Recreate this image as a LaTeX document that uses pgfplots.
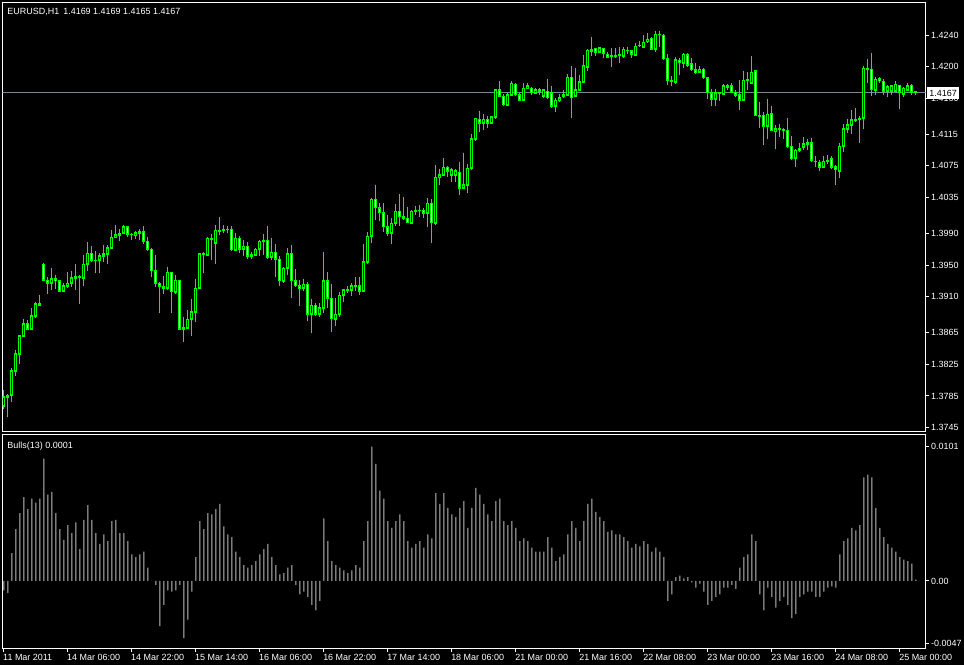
\documentclass[border=0pt]{standalone}
\usepackage{pgfplots}
\pgfplotsset{compat=1.18}
\usepackage{pgfplotstable}
\usepackage{fontspec}
\setmainfont{Liberation Sans}
\definecolor{mtlime}{RGB}{0,255,0}
\definecolor{mtsilver}{RGB}{192,192,192}
\definecolor{mtline}{RGB}{119,136,153}
\pgfplotstableread{
i o h l c
0 1.3772 1.3793 1.3768 1.3784
1 1.3784 1.3788 1.3758 1.3786
2 1.3786 1.3820 1.3777 1.3817
3 1.3817 1.3843 1.3810 1.3838
4 1.3838 1.3862 1.3825 1.3861
5 1.3861 1.3882 1.3860 1.3876
6 1.3876 1.3881 1.3868 1.3869
7 1.3869 1.3896 1.3868 1.3886
8 1.3886 1.3903 1.3883 1.3901
9 1.3901 1.3912 1.3898 1.3899
10 1.3951 1.3953 1.3930 1.3931
11 1.3931 1.3935 1.3914 1.3927
12 1.3927 1.3946 1.3919 1.3933
13 1.3933 1.3938 1.3920 1.3930
14 1.3930 1.3931 1.3916 1.3917
15 1.3917 1.3927 1.3916 1.3924
16 1.3924 1.3941 1.3921 1.3927
17 1.3927 1.3942 1.3922 1.3934
18 1.3934 1.3951 1.3918 1.3935
19 1.3935 1.3938 1.3901 1.3934
20 1.3934 1.3963 1.3924 1.3951
21 1.3951 1.3979 1.3943 1.3965
22 1.3965 1.3974 1.3954 1.3956
23 1.3956 1.3968 1.3940 1.3956
24 1.3956 1.3965 1.3940 1.3962
25 1.3962 1.3975 1.3954 1.3964
26 1.3964 1.3975 1.3951 1.3972
27 1.3972 1.3994 1.3972 1.3985
28 1.3985 1.4000 1.3985 1.3988
29 1.3988 1.3996 1.3980 1.3990
30 1.3990 1.4000 1.3989 1.3998
31 1.3998 1.3999 1.3985 1.3989
32 1.3989 1.3991 1.3982 1.3988
33 1.3988 1.3993 1.3983 1.3991
34 1.3991 1.3996 1.3982 1.3992
35 1.3992 1.3999 1.3977 1.3980
36 1.3980 1.3985 1.3968 1.3970
37 1.3970 1.3972 1.3935 1.3943
38 1.3943 1.3963 1.3922 1.3927
39 1.3927 1.3928 1.3890 1.3923
40 1.3923 1.3936 1.3913 1.3921
41 1.3921 1.3947 1.3919 1.3941
42 1.3941 1.3941 1.3890 1.3916
43 1.3916 1.3938 1.3914 1.3931
44 1.3931 1.3931 1.3868 1.3869
45 1.3869 1.3885 1.3853 1.3871
46 1.3871 1.3893 1.3870 1.3882
47 1.3882 1.3907 1.3861 1.3891
48 1.3891 1.3933 1.3878 1.3921
49 1.3921 1.3965 1.3921 1.3964
50 1.3964 1.3966 1.3940 1.3963
51 1.3963 1.3985 1.3963 1.3984
52 1.3984 1.3989 1.3956 1.3982
53 1.3978 1.4001 1.3951 1.3994
54 1.3993 1.4010 1.3988 1.3994
55 1.3994 1.4001 1.3990 1.3995
56 1.3995 1.3999 1.3991 1.3995
57 1.3995 1.3999 1.3968 1.3969
58 1.3969 1.3990 1.3969 1.3984
59 1.3984 1.3986 1.3965 1.3970
60 1.3970 1.3982 1.3961 1.3974
61 1.3974 1.3979 1.3958 1.3961
62 1.3961 1.3967 1.3958 1.3963
63 1.3963 1.3972 1.3961 1.3970
64 1.3970 1.3982 1.3961 1.3980
65 1.3980 1.3989 1.3963 1.3981
66 1.3981 1.3999 1.3958 1.3960
67 1.3960 1.3984 1.3956 1.3966
68 1.3966 1.3977 1.3935 1.3957
69 1.3957 1.3961 1.3924 1.3930
70 1.3930 1.3947 1.3927 1.3946
71 1.3946 1.3972 1.3937 1.3964
72 1.3964 1.3975 1.3909 1.3930
73 1.3930 1.3945 1.3923 1.3924
74 1.3924 1.3931 1.3898 1.3921
75 1.3921 1.3932 1.3917 1.3926
76 1.3926 1.3928 1.3879 1.3888
77 1.3888 1.3907 1.3864 1.3899
78 1.3899 1.3902 1.3886 1.3888
79 1.3888 1.3902 1.3884 1.3896
80 1.3896 1.3966 1.3889 1.3930
81 1.3930 1.3941 1.3896 1.3908
82 1.3908 1.3926 1.3866 1.3882
83 1.3882 1.3909 1.3873 1.3888
84 1.3888 1.3916 1.3885 1.3912
85 1.3912 1.3919 1.3904 1.3919
86 1.3919 1.3924 1.3915 1.3919
87 1.3919 1.3927 1.3911 1.3924
88 1.3924 1.3935 1.3917 1.3924
89 1.3924 1.3935 1.3912 1.3917
90 1.3917 1.3977 1.3916 1.3954
91 1.3954 1.3992 1.3951 1.3986
92 1.3986 1.4034 1.3978 1.4033
93 1.4033 1.4051 1.4007 1.4022
94 1.4022 1.4028 1.4005 1.4016
95 1.4016 1.4028 1.3992 1.3998
96 1.3998 1.4013 1.3986 1.3990
97 1.3990 1.4009 1.3977 1.4003
98 1.4003 1.4027 1.3999 1.4018
99 1.4018 1.4040 1.3999 1.4011
100 1.4011 1.4036 1.4007 1.4009
101 1.4009 1.4023 1.4003 1.4003
102 1.4003 1.4019 1.4003 1.4018
103 1.4018 1.4024 1.4013 1.4019
104 1.4019 1.4026 1.4010 1.4019
105 1.4019 1.4022 1.4009 1.4015
106 1.4015 1.4035 1.3998 1.4028
107 1.4028 1.4033 1.3978 1.4003
108 1.4003 1.4076 1.4001 1.4061
109 1.4061 1.4071 1.4051 1.4064
110 1.4064 1.4085 1.4064 1.4073
111 1.4073 1.4075 1.4061 1.4068
112 1.4064 1.4072 1.4055 1.4070
113 1.4063 1.4071 1.4055 1.4069
114 1.4067 1.4080 1.4038 1.4047
115 1.4047 1.4091 1.4047 1.4051
116 1.4051 1.4077 1.4041 1.4072
117 1.4072 1.4115 1.4070 1.4109
118 1.4109 1.4136 1.4107 1.4135
119 1.4134 1.4144 1.4118 1.4129
120 1.4129 1.4141 1.4120 1.4134
121 1.4134 1.4138 1.4123 1.4129
122 1.4129 1.4138 1.4128 1.4137
123 1.4137 1.4172 1.4134 1.4171
124 1.4171 1.4182 1.4162 1.4163
125 1.4163 1.4166 1.4151 1.4152
126 1.4152 1.4168 1.4152 1.4165
127 1.4165 1.4182 1.4164 1.4179
128 1.4178 1.4179 1.4164 1.4165
129 1.4165 1.4167 1.4157 1.4158
130 1.4158 1.4179 1.4157 1.4173
131 1.4173 1.4179 1.4172 1.4176
132 1.4173 1.4175 1.4164 1.4167
133 1.4167 1.4173 1.4167 1.4171
134 1.4171 1.4173 1.4164 1.4169
135 1.4163 1.4172 1.4160 1.4171
136 1.4169 1.4184 1.4160 1.4161
137 1.4167 1.4176 1.4148 1.4150
138 1.4150 1.4161 1.4143 1.4158
139 1.4158 1.4166 1.4155 1.4161
140 1.4163 1.4171 1.4160 1.4165
141 1.4165 1.4191 1.4164 1.4187
142 1.4187 1.4201 1.4136 1.4161
143 1.4163 1.4198 1.4162 1.4171
144 1.4171 1.4190 1.4170 1.4181
145 1.4181 1.4215 1.4180 1.4201
146 1.4200 1.4222 1.4194 1.4221
147 1.4220 1.4237 1.4214 1.4222
148 1.4223 1.4224 1.4214 1.4218
149 1.4218 1.4225 1.4218 1.4224
150 1.4223 1.4224 1.4211 1.4217
151 1.4216 1.4219 1.4211 1.4212
152 1.4213 1.4223 1.4200 1.4214
153 1.4214 1.4223 1.4211 1.4214
154 1.4215 1.4225 1.4205 1.4215
155 1.4213 1.4225 1.4211 1.4222
156 1.4221 1.4225 1.4216 1.4220
157 1.4220 1.4221 1.4211 1.4216
158 1.4215 1.4230 1.4215 1.4226
159 1.4227 1.4232 1.4225 1.4227
160 1.4225 1.4240 1.4224 1.4231
161 1.4232 1.4243 1.4230 1.4235
162 1.4236 1.4238 1.4221 1.4222
163 1.4222 1.4245 1.4219 1.4241
164 1.4241 1.4245 1.4225 1.4240
165 1.4240 1.4241 1.4209 1.4210
166 1.4210 1.4216 1.4177 1.4183
167 1.4183 1.4188 1.4176 1.4181
168 1.4181 1.4212 1.4178 1.4209
169 1.4208 1.4211 1.4190 1.4205
170 1.4205 1.4217 1.4198 1.4216
171 1.4215 1.4217 1.4200 1.4202
172 1.4204 1.4211 1.4195 1.4196
173 1.4196 1.4205 1.4191 1.4193
174 1.4193 1.4201 1.4192 1.4197
175 1.4197 1.4199 1.4185 1.4186
176 1.4186 1.4187 1.4159 1.4167
177 1.4167 1.4172 1.4151 1.4159
178 1.4159 1.4172 1.4151 1.4167
179 1.4167 1.4168 1.4157 1.4166
180 1.4166 1.4178 1.4166 1.4176
181 1.4176 1.4178 1.4171 1.4174
182 1.4176 1.4179 1.4167 1.4168
183 1.4168 1.4171 1.4162 1.4164
184 1.4165 1.4183 1.4145 1.4158
185 1.4158 1.4195 1.4157 1.4183
186 1.4183 1.4194 1.4171 1.4184
187 1.4180 1.4213 1.4180 1.4193
188 1.4195 1.4195 1.4138 1.4138
189 1.4138 1.4156 1.4123 1.4139
190 1.4139 1.4143 1.4101 1.4125
191 1.4125 1.4159 1.4109 1.4140
192 1.4141 1.4150 1.4119 1.4119
193 1.4119 1.4127 1.4096 1.4122
194 1.4122 1.4128 1.4111 1.4122
195 1.4121 1.4123 1.4109 1.4120
196 1.4120 1.4136 1.4098 1.4099
197 1.4100 1.4113 1.4082 1.4084
198 1.4085 1.4096 1.4074 1.4095
199 1.4097 1.4104 1.4092 1.4094
200 1.4099 1.4112 1.4095 1.4103
201 1.4103 1.4109 1.4095 1.4104
202 1.4104 1.4110 1.4080 1.4082
203 1.4081 1.4087 1.4074 1.4080
204 1.4079 1.4083 1.4068 1.4073
205 1.4073 1.4087 1.4072 1.4081
206 1.4081 1.4089 1.4078 1.4082
207 1.4084 1.4087 1.4071 1.4073
208 1.4074 1.4076 1.4051 1.4071
209 1.4069 1.4104 1.4060 1.4100
210 1.4100 1.4128 1.4092 1.4122
211 1.4122 1.4134 1.4117 1.4127
212 1.4127 1.4145 1.4115 1.4133
213 1.4133 1.4148 1.4130 1.4134
214 1.4134 1.4138 1.4104 1.4135
215 1.4135 1.4201 1.4122 1.4198
216 1.4198 1.4210 1.4180 1.4197
217 1.4197 1.4217 1.4163 1.4171
218 1.4171 1.4187 1.4164 1.4184
219 1.4185 1.4187 1.4180 1.4182
220 1.4182 1.4185 1.4164 1.4169
221 1.4169 1.4177 1.4162 1.4175
222 1.4169 1.4177 1.4165 1.4176
223 1.4170 1.4182 1.4169 1.4178
224 1.4177 1.4177 1.4147 1.4168
225 1.4166 1.4175 1.4162 1.4173
226 1.4171 1.4179 1.4169 1.4176
227 1.4177 1.4178 1.4164 1.4168
228 1.4169 1.4169 1.4165 1.4167
}\candles
\pgfplotstableread{
i v
0 -0.0007
1 -0.0009
2 0.0021
3 0.0039
4 0.0051
5 0.0063
6 0.0054
7 0.0062
8 0.0059
9 0.0062
10 0.0092
11 0.0065
12 0.0067
13 0.0051
14 0.0039
15 0.0031
16 0.0042
17 0.0036
18 0.0044
19 0.0024
20 0.0046
21 0.0057
22 0.0046
23 0.0036
24 0.0028
25 0.0035
26 0.0030
27 0.0045
28 0.0046
29 0.0036
30 0.0036
31 0.0030
32 0.0020
33 0.0018
34 0.0020
35 0.0022
36 0.0010
37 0.0000
38 -0.0003
39 -0.0034
40 -0.0018
41 -0.0007
42 -0.0008
43 -0.0007
44 -0.0003
45 -0.0043
46 -0.0029
47 -0.0008
48 0.0018
49 0.0045
50 0.0039
51 0.0051
52 0.0050
53 0.0054
54 0.0058
55 0.0041
56 0.0035
57 0.0033
58 0.0022
59 0.0018
60 0.0012
61 0.0010
62 0.0012
63 0.0015
64 0.0020
65 0.0024
66 0.0028
67 0.0018
68 0.0012
69 0.0005
70 0.0006
71 0.0010
72 0.0012
73 -0.0003
74 -0.0010
75 -0.0008
76 -0.0012
77 -0.0018
78 -0.0022
79 -0.0015
80 0.0047
81 0.0030
82 0.0015
83 0.0012
84 0.0010
85 0.0008
86 0.0006
87 0.0008
88 0.0012
89 0.0010
90 0.0030
91 0.0045
92 0.0101
93 0.0088
94 0.0068
95 0.0062
96 0.0045
97 0.0040
98 0.0045
99 0.0050
100 0.0045
101 0.0030
102 0.0025
103 0.0028
104 0.0030
105 0.0025
106 0.0035
107 0.0032
108 0.0066
109 0.0058
110 0.0066
111 0.0055
112 0.0050
113 0.0048
114 0.0055
115 0.0060
116 0.0040
117 0.0055
118 0.0070
119 0.0065
120 0.0058
121 0.0050
122 0.0045
123 0.0060
124 0.0062
125 0.0045
126 0.0042
127 0.0045
128 0.0040
129 0.0030
130 0.0032
131 0.0030
132 0.0025
133 0.0022
134 0.0022
135 0.0022
136 0.0033
137 0.0025
138 0.0015
139 0.0018
140 0.0020
141 0.0035
142 0.0045
143 0.0040
144 0.0030
145 0.0045
146 0.0058
147 0.0062
148 0.0052
149 0.0048
150 0.0045
151 0.0037
152 0.0038
153 0.0035
154 0.0035
155 0.0033
156 0.0030
157 0.0025
158 0.0028
159 0.0026
160 0.0030
161 0.0028
162 0.0022
163 0.0025
164 0.0022
165 0.0018
166 -0.0015
167 -0.0010
168 0.0003
169 0.0004
170 0.0002
171 0.0003
172 -0.0001
173 -0.0005
174 -0.0002
175 -0.0008
176 -0.0018
177 -0.0015
178 -0.0012
179 -0.0010
180 -0.0005
181 -0.0005
182 -0.0003
183 -0.0006
184 0.0010
185 0.0018
186 0.0020
187 0.0035
188 0.0030
189 -0.0010
190 -0.0022
191 -0.0005
192 -0.0012
193 -0.0020
194 -0.0015
195 -0.0012
196 -0.0018
197 -0.0028
198 -0.0025
199 -0.0012
200 -0.0010
201 -0.0008
202 -0.0008
203 -0.0012
204 -0.0012
205 -0.0008
206 -0.0005
207 -0.0004
208 -0.0005
209 0.0020
210 0.0030
211 0.0032
212 0.0040
213 0.0038
214 0.0042
215 0.0078
216 0.0080
217 0.0078
218 0.0055
219 0.0040
220 0.0033
221 0.0028
222 0.0025
223 0.0022
224 0.0018
225 0.0016
226 0.0015
227 0.0013
228 0.0001
}\bulls
\pgfplotsset{mt/.style={
  scale only axis, anchor=south west,
  xmin=-0.33, xmax=230.4,
  axis line style={white, line width=1bp},
  tick style={white, line width=1bp},
  tick align=outside, major tick length=3bp,
  ytick pos=right, yticklabel pos=right,
  scaled y ticks=false,
  yticklabel style={font=\fontsize{9}{10}\selectfont, text=white, anchor=west, inner sep=0pt, xshift=2.5bp},
  clip=true}}
\begin{document}
\begin{tikzpicture}
\fill[black] (0,0) rectangle (964bp,665bp);
\path[use as bounding box] (0,0) rectangle (964bp,665bp);
\begin{axis}[mt,
  at={(2.5bp,233.3bp)}, width=923bp, height=429.2bp,
  ymin=1.37399, ymax=1.42810,
  xtick=\empty,
  ytick={1.3745,1.3785,1.3825,1.3865,1.3910,1.3950,1.3990,1.4035,1.4075,1.4115,1.4160,1.4200,1.4240},
  yticklabels={1.3745,1.3785,1.3825,1.3865,1.3910,1.3950,1.3990,1.4035,1.4075,1.4115,1.4160,1.4200,1.4240}]
\addplot[mtline, line width=1bp, mark=none, forget plot] coordinates {(-1,1.4167) (232,1.4167)};
% wicks
\addplot[draw=none, mark=none, forget plot,
  error bars/.cd, y dir=both, y explicit, error mark=none,
  error bar style={draw=mtlime, line width=1bp}]
  table[x=i, y=c, y error plus expr=\thisrow{h}-\thisrow{c}, y error minus expr=\thisrow{c}-\thisrow{l}] {\candles};
% body outline (open to close, 3 px wide)
\addplot[draw=none, mark=none, forget plot,
  error bars/.cd, y dir=both, y explicit, error mark=none,
  error bar style={draw=mtlime, line width=3bp}]
  table[x=i, y=o,
    y error plus expr={max(\thisrow{c}-\thisrow{o},0)+0.00006},
    y error minus expr={max(\thisrow{o}-\thisrow{c},0)+0.00006}] {\candles};
% bear interiors (white)
\addplot[draw=none, mark=none, forget plot,
  error bars/.cd, y dir=minus, y explicit, error mark=none,
  error bar style={draw=white, line width=1bp}]
  table[x=i, y expr=\thisrow{o}-0.000126,
    y error minus expr={max(\thisrow{o}-\thisrow{c}-0.000252,0)}] {\candles};
% bull interiors (black)
\addplot[draw=none, mark=none, forget plot,
  error bars/.cd, y dir=plus, y explicit, error mark=none,
  error bar style={draw=black, line width=1bp}]
  table[x=i, y expr=\thisrow{o}+0.000126,
    y error plus expr={max(\thisrow{c}-\thisrow{o}-0.000252,0)}] {\candles};
\coordinate (pl) at (axis cs:230.4,1.4167);
\end{axis}
\node[fill=white, text=black, anchor=west, inner xsep=2.2bp, inner ysep=2.5bp, font=\fontsize{9}{10}\selectfont, xshift=1.5bp] at (pl) {1.4167};
\begin{axis}[mt,
  at={(2.5bp,16bp)}, width=923bp, height=214.3bp,
  ymin=-0.005113, ymax=0.0110,
  ytick={-0.0047,0,0.0101}, yticklabels={-0.0047,0.00,0.0101},
  xtick={0,16,...,224}, xtick pos=bottom,
  xticklabels={11 Mar 2011,14 Mar 06:00,14 Mar 22:00,15 Mar 14:00,16 Mar 06:00,16 Mar 22:00,17 Mar 14:00,18 Mar 06:00,21 Mar 00:00,21 Mar 16:00,22 Mar 08:00,23 Mar 00:00,23 Mar 16:00,24 Mar 08:00,25 Mar 00:00},
  xticklabel style={font=\fontsize{9}{10}\selectfont, text=white, anchor=north west, inner sep=0pt, xshift=-0.8bp, yshift=-2.5bp}]
\addplot[ybar, bar width=1bp, fill=mtsilver, draw=none, forget plot] table[x=i, y=v] {\bulls};
\end{axis}
\node[anchor=base west, inner sep=0pt, text=white, font=\fontsize{9}{10}\selectfont] at (7.3bp,650bp) {EURUSD,H1\hspace{4bp}1.4169 1.4169 1.4165 1.4167};
\node[anchor=base west, inner sep=0pt, text=white, font=\fontsize{9}{10}\selectfont] at (7.3bp,216bp) {Bulls(13) 0.0001};
\end{tikzpicture}
\end{document}
